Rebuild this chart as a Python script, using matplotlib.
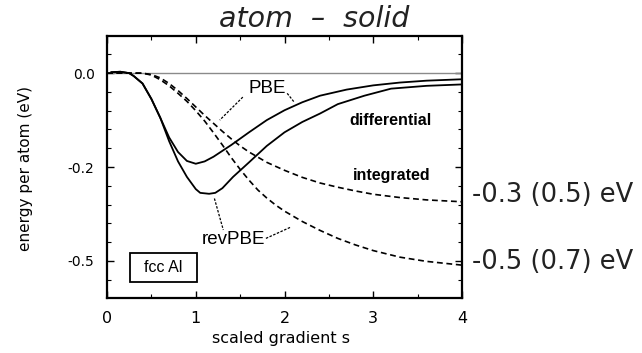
import matplotlib
matplotlib.use("Agg")
import matplotlib.pyplot as plt
from matplotlib.patches import Rectangle
from matplotlib.ticker import MultipleLocator, FixedLocator

# values (y in "tick units": ticks sit at 0, -0.2, -0.4)
s_pbe_diff = [0.05, 0.15, 0.25, 0.3, 0.4, 0.5, 0.6, 0.7, 0.8, 0.9, 1.0, 1.1, 1.2, 1.4, 1.6,
              1.8, 2.0, 2.2, 2.4, 2.7, 3.0, 3.3, 3.6, 4.0]
e_pbe_diff = [0.002, 0.003, 0.0, -0.006, -0.022, -0.055, -0.095, -0.137, -0.168, -0.187,
              -0.193, -0.188, -0.178, -0.153, -0.126, -0.100, -0.079, -0.062, -0.048,
              -0.035, -0.026, -0.020, -0.016, -0.013]

s_rev_diff = [0.05, 0.15, 0.25, 0.3, 0.4, 0.5, 0.6, 0.7, 0.8, 0.9, 1.0, 1.05, 1.15, 1.22,
              1.3, 1.42, 1.6, 1.8, 2.0, 2.2, 2.4, 2.6, 2.9, 3.2, 3.6, 4.0]
e_rev_diff = [0.002, 0.003, 0.0, -0.006, -0.022, -0.055, -0.095, -0.145, -0.188, -0.221,
              -0.247, -0.255, -0.257, -0.255, -0.245, -0.221, -0.19, -0.155, -0.126,
              -0.104, -0.086, -0.066, -0.048, -0.033, -0.027, -0.024]

s_pbe_int = [0.0, 0.4, 0.5, 0.6, 0.7, 0.8, 0.9, 1.0, 1.1, 1.2, 1.3, 1.4, 1.5, 1.6, 1.8, 2.0,
             2.2, 2.4, 2.6, 2.8, 3.0, 3.3, 3.6, 4.0]
e_pbe_int = [0.0, 0.0, -0.003, -0.010, -0.022, -0.037, -0.054, -0.072, -0.090, -0.107,
             -0.124, -0.140, -0.155, -0.168, -0.190, -0.207, -0.222, -0.234, -0.243,
             -0.251, -0.258, -0.265, -0.270, -0.274]

s_rev_int = [0.0, 0.4, 0.5, 0.6, 0.7, 0.8, 0.9, 1.0, 1.1, 1.2, 1.3, 1.4, 1.5, 1.6, 1.7, 1.8,
             1.9, 2.0, 2.2, 2.4, 2.6, 2.8, 3.0, 3.3, 3.6, 4.0]
e_rev_int = [0.0, 0.0, -0.004, -0.014, -0.027, -0.043, -0.060, -0.080, -0.102, -0.127,
             -0.153, -0.180, -0.205, -0.228, -0.249, -0.266, -0.281, -0.294, -0.316,
             -0.335, -0.352, -0.366, -0.378, -0.392, -0.401, -0.409]

yticks = [0.0, -0.2, -0.4]
ytick_labels = ["0.0", "-0.2", "-0.5"]
xticks = [0, 1, 2, 3, 4]
end_notes = ["-0.3 (0.5) eV", "-0.5 (0.7) eV"]

fig = plt.figure(figsize=(6.42, 3.53), dpi=100)
ax = fig.add_axes([0.1667, 0.1558, 0.553, 0.742])

ax.plot([0, 4], [0, 0], color="#8a8a8a", lw=1.0)
ax.plot(s_pbe_diff, e_pbe_diff, color="black", lw=1.3)
ax.plot(s_rev_diff, e_rev_diff, color="black", lw=1.3)
ax.plot(s_pbe_int, e_pbe_int, color="black", lw=1.2, dashes=(3.5, 2.2))
ax.plot(s_rev_int, e_rev_int, color="black", lw=1.2, dashes=(3.5, 2.2))

# pointer lines for the curve labels
ptr = dict(color="black", lw=0.9, dashes=(2, 1.2))
ax.plot([1.53, 1.27], [-0.051, -0.100], **ptr)
ax.plot([2.03, 2.11], [-0.043, -0.062], **ptr)
ax.plot([1.21, 1.31], [-0.267, -0.334], **ptr)
ax.plot([1.79, 2.07], [-0.352, -0.328], **ptr)

lab = dict(family="Liberation Sans", color="black")
ax.text(1.8, -0.032, "PBE", fontsize=13.5, ha="center", va="center", **lab)
ax.text(1.42, -0.355, "revPBE", fontsize=13.5, ha="center", va="center", **lab)
ax.text(3.19, -0.100, "differential", fontsize=11.5, weight="bold", ha="center", va="center", **lab)
ax.text(3.21, -0.217, "integrated", fontsize=11.5, weight="bold", ha="center", va="center", **lab)

ax.add_patch(Rectangle((0.26, -0.445), 0.75, 0.062, fill=False, lw=1.3, ec="black"))
ax.text(0.635, -0.414, "fcc Al", fontsize=11.5, ha="center", va="center", **lab)

ax.text(4.11, e_pbe_int[-1] + 0.014, end_notes[0], fontsize=18.5, ha="left", va="center",
        color="#222222", clip_on=False)
ax.text(4.11, e_rev_int[-1] + 0.007, end_notes[1], fontsize=18.5, ha="left", va="center",
        color="#222222", clip_on=False)

fig.text(0.49, 0.945, "atom  \u2013  solid", fontsize=20.5, style="italic",
         ha="center", va="center", color="#222222")

ax.set_xlim(0, 4)
ax.set_ylim(-0.479, 0.079)
ax.xaxis.set_major_locator(FixedLocator(xticks))
ax.xaxis.set_minor_locator(MultipleLocator(0.5))
ax.yaxis.set_major_locator(FixedLocator(yticks))
ax.yaxis.set_minor_locator(MultipleLocator(0.04))
ax.set_yticklabels(ytick_labels)

ax.tick_params(which="both", direction="in", top=True, right=True, color="black")
ax.tick_params(which="major", length=5, width=1.0)
ax.tick_params(which="minor", length=3, width=0.8)
ax.tick_params(axis="x", labelsize=11.5, pad=9)
ax.tick_params(axis="y", labelsize=10, pad=9)

for sp in ax.spines.values():
    sp.set_linewidth(1.6)

ax.set_xlabel("scaled gradient s", fontsize=11.5)
ax.xaxis.set_label_coords(0.49, -0.153)
ax.xaxis.label.set_va("center")
ax.set_ylabel("energy per atom (eV)", fontsize=11)
ax.yaxis.set_label_coords(-0.231, 0.496)
ax.yaxis.label.set_va("center")

fig.savefig("out.png", dpi=100)
